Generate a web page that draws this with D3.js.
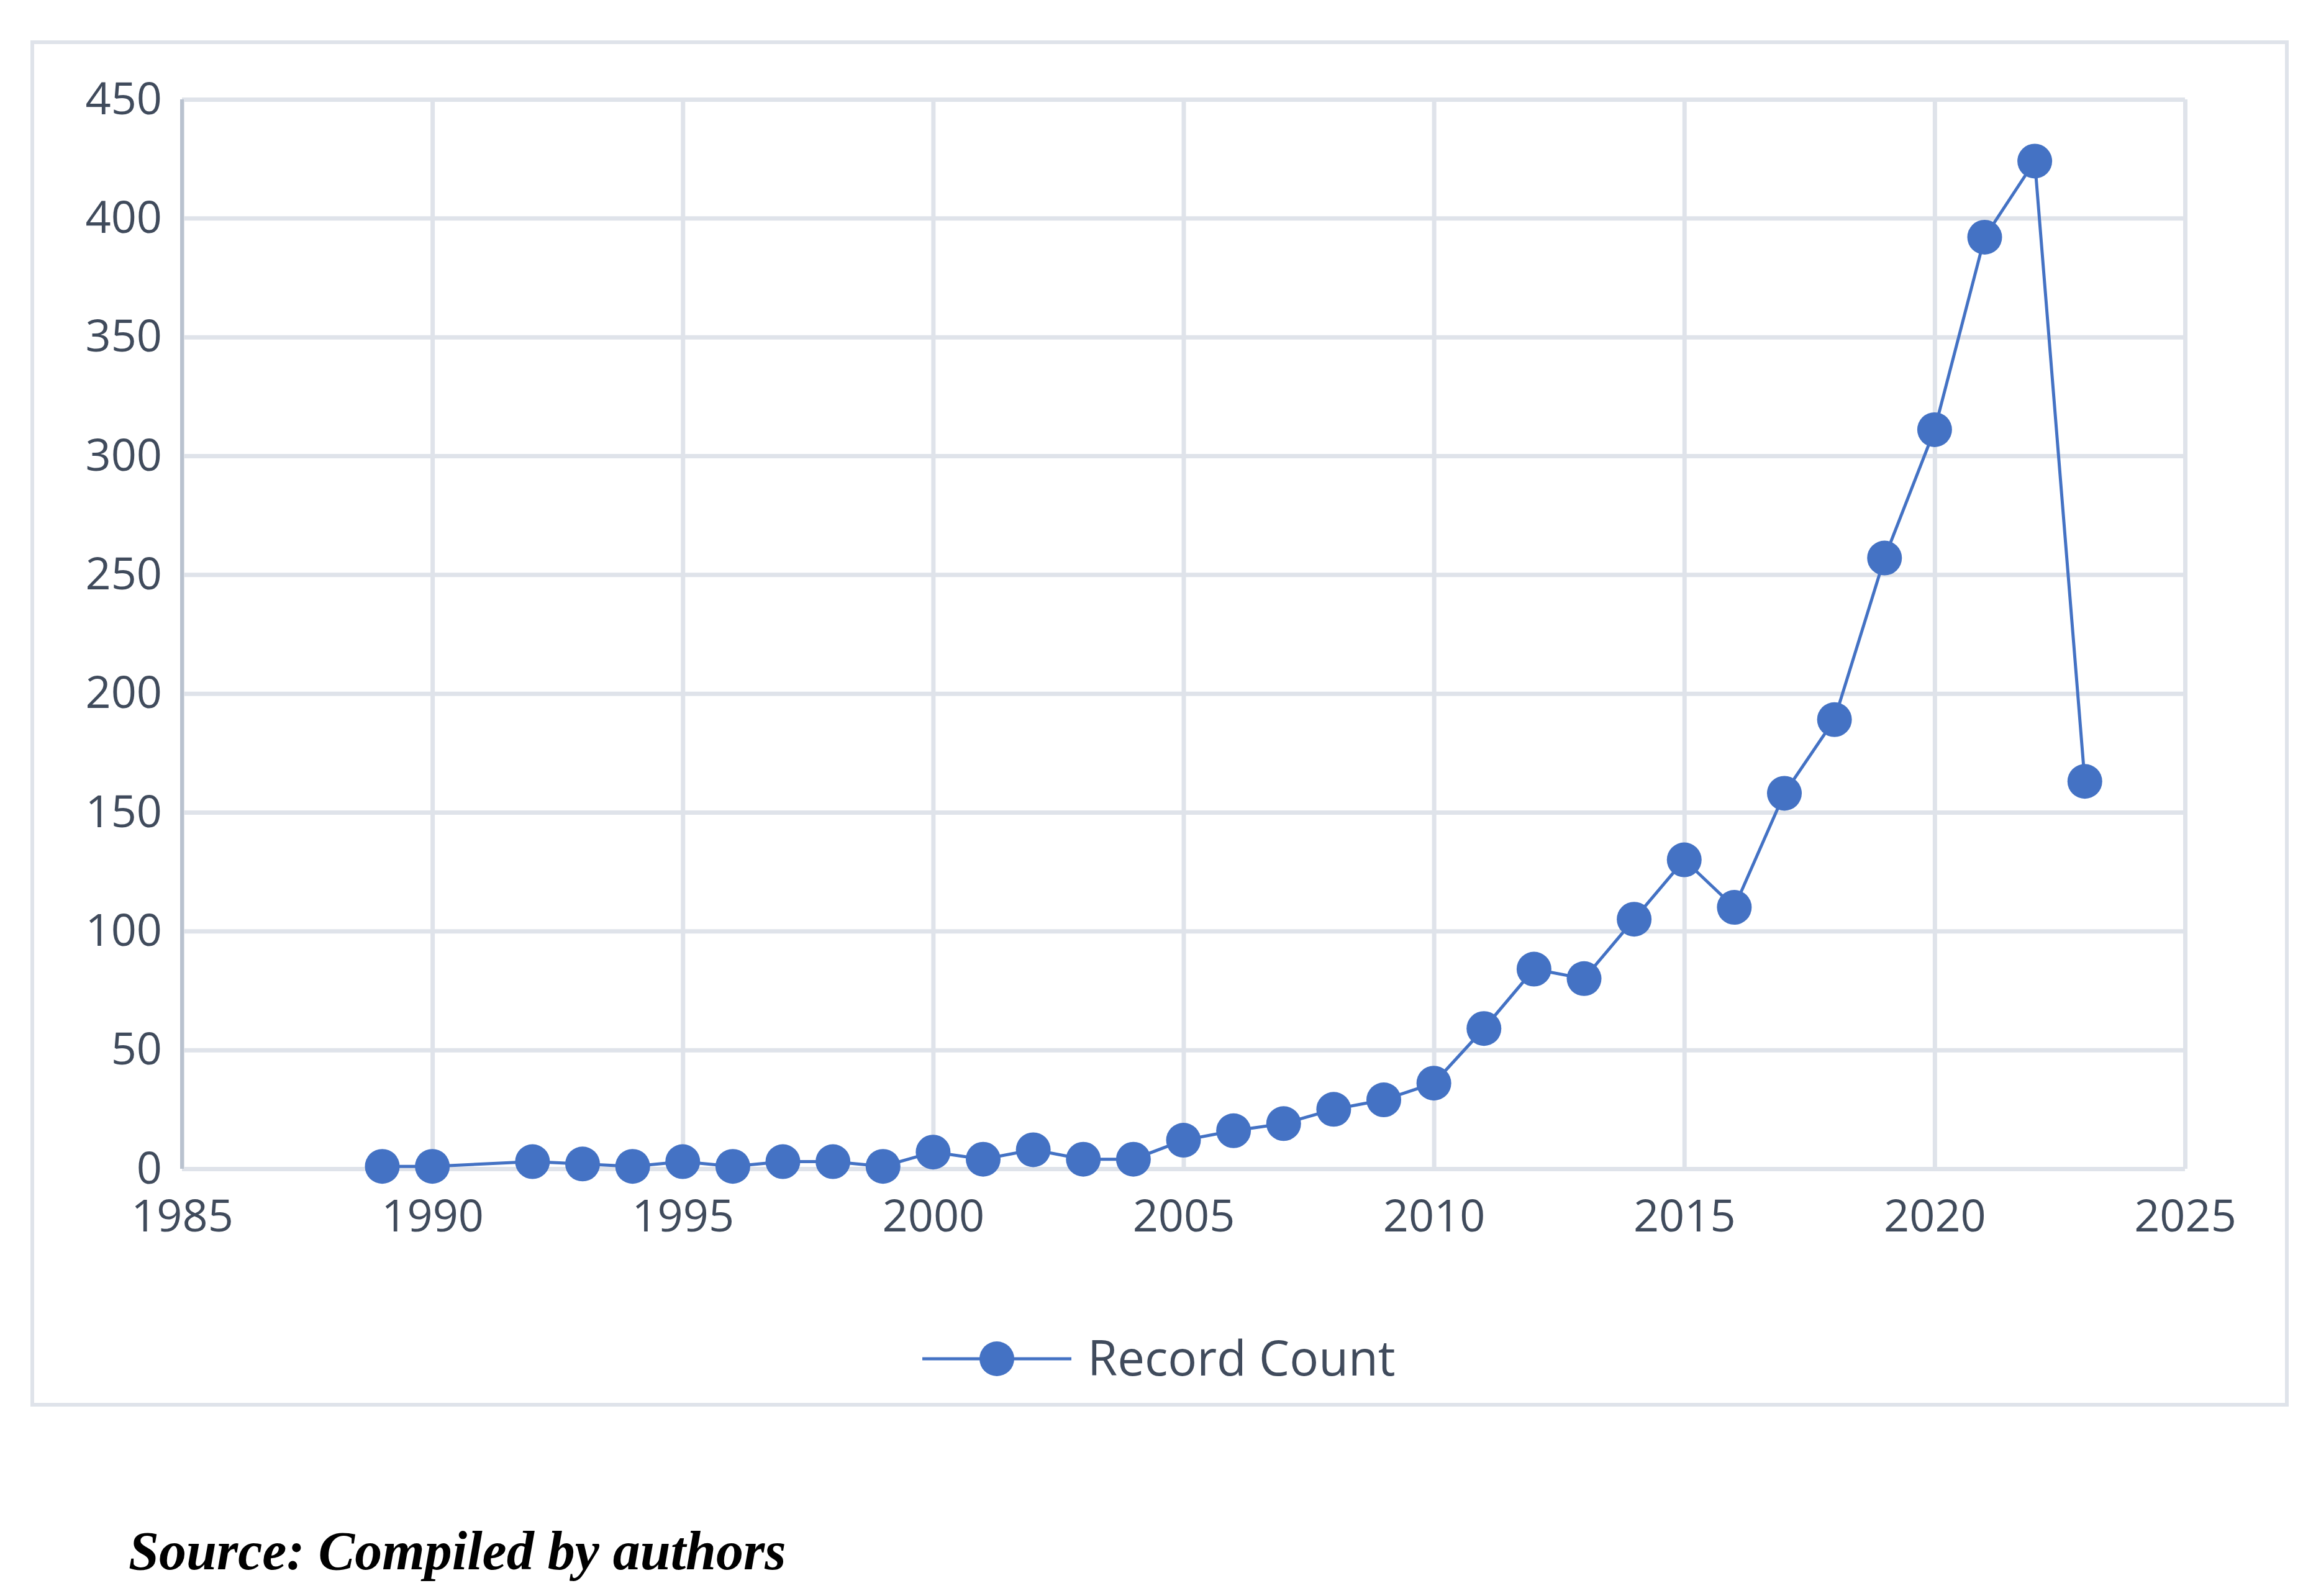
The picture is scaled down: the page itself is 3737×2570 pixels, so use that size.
<!DOCTYPE html>
<html>
<head>
<meta charset="utf-8">
<script src="https://cdn.jsdelivr.net/npm/d3@7"></script>
<style>
  body { margin: 0; background: #ffffff; }
  .tick text { font-family: "Open Sans", sans-serif; fill: #404b5c; }
</style>
</head>
<body>
<div id="chart"></div>
<script>
// Record counts per year (1991 has no record)
var years = [1989, 1990, 1992, 1993, 1994, 1995, 1996, 1997, 1998, 1999,
             2000, 2001, 2002, 2003, 2004, 2005, 2006, 2007, 2008, 2009,
             2010, 2011, 2012, 2013, 2014, 2015, 2016, 2017, 2018, 2019,
             2020, 2021, 2022, 2023];
var counts = [1, 1, 3, 2, 1, 3, 1, 3, 3, 1,
              7, 4, 8, 4, 4, 12, 16, 19, 25, 29,
              36, 59, 84, 80, 105, 130, 110, 158, 189, 257,
              311, 392, 424, 163];
var xTicks = [1985, 1990, 1995, 2000, 2005, 2010, 2015, 2020, 2025];
var yTicks = [0, 50, 100, 150, 200, 250, 300, 350, 400, 450];
var seriesName = "Record Count";
var sourceNote = "Source: Compiled by authors";

var svgWidth = 3737;
var svgHeight = 2570;
var margin = {top: 160, right: 219, bottom: 688, left: 293};
var chartWidth = svgWidth - margin.left - margin.right;
var chartHeight = svgHeight - margin.top - margin.bottom;

var blue = "#4472c4";
var gridColor = "#dfe3ea";

var svg = d3.select("#chart").append("svg")
    .attr("width", svgWidth).attr("height", svgHeight);

// outer frame of the chart
svg.append("rect")
    .attr("x", 52).attr("y", 68)
    .attr("width", 3682 - 52).attr("height", 2262 - 68)
    .attr("fill", "#ffffff").attr("stroke", gridColor).attr("stroke-width", 6);

var chartGroup = svg.append("g")
    .attr("transform", `translate(${margin.left},${margin.top})`);

var xScale = d3.scaleLinear().domain([1985, 2025]).range([0, chartWidth]);
var yScale = d3.scaleLinear().domain([0, 450]).range([chartHeight, 0]);

// grid lines
chartGroup.append("g")
    .call(d3.axisLeft(yScale).tickValues(yTicks).tickSize(-chartWidth).tickFormat(""))
    .call(g => g.select(".domain").remove())
    .call(g => g.selectAll("line").attr("stroke", gridColor).attr("stroke-width", 7));
chartGroup.append("g")
    .attr("transform", `translate(0,${chartHeight})`)
    .call(d3.axisBottom(xScale).tickValues(xTicks).tickSize(chartHeight).tickFormat(""))
    .call(g => g.select(".domain").remove())
    .call(g => g.selectAll("line").attr("stroke", gridColor).attr("stroke-width", 7)
        .attr("y2", -chartHeight));

// left axis line
chartGroup.append("line")
    .attr("x1", 0).attr("x2", 0).attr("y1", 0).attr("y2", chartHeight)
    .attr("stroke", "#b9c2cf").attr("stroke-width", 6);

// tick labels
var yAxis = chartGroup.append("g")
    .call(d3.axisLeft(yScale).tickValues(yTicks).tickSize(0).tickPadding(32))
    .call(g => g.select(".domain").remove());
yAxis.selectAll("text").attr("font-size", 72).attr("dy", "0.32em");

var xAxis = chartGroup.append("g")
    .attr("transform", `translate(0,${chartHeight})`)
    .call(d3.axisBottom(xScale).tickValues(xTicks).tickSize(0).tickPadding(50).tickFormat(d3.format("d")))
    .call(g => g.select(".domain").remove());
xAxis.selectAll("text").attr("font-size", 72);

// series line and markers
var data = years.map((y, i) => ({year: y, count: counts[i]}));
var line = d3.line().x(d => xScale(d.year)).y(d => yScale(d.count));

chartGroup.append("path")
    .datum(data)
    .attr("d", line)
    .attr("fill", "none")
    .attr("stroke", blue)
    .attr("stroke-width", 5);

chartGroup.selectAll("circle.pt").data(data).enter().append("circle")
    .attr("class", "pt")
    .attr("cx", d => xScale(d.year))
    .attr("cy", d => yScale(d.count))
    .attr("r", 28)
    .attr("fill", blue);

// legend
var legend = svg.append("g").attr("transform", "translate(1485,2188)");
legend.append("line").attr("x1", 0).attr("x2", 240).attr("y1", 0).attr("y2", 0)
    .attr("stroke", blue).attr("stroke-width", 5);
legend.append("circle").attr("cx", 120).attr("cy", 0).attr("r", 28).attr("fill", blue);
legend.append("text")
    .attr("x", 266).attr("y", 0).attr("dy", "0.35em")
    .attr("font-family", "Open Sans, sans-serif")
    .attr("font-size", 78)
    .attr("fill", "#404b5c")
    .text(seriesName);

// source note
svg.append("text")
    .attr("x", 207).attr("y", 2527)
    .attr("font-family", "Liberation Serif, serif")
    .attr("font-style", "italic")
    .attr("font-weight", "bold")
    .attr("font-size", 88)
    .attr("fill", "#000000")
    .text(sourceNote);
</script>
</body>
</html>
